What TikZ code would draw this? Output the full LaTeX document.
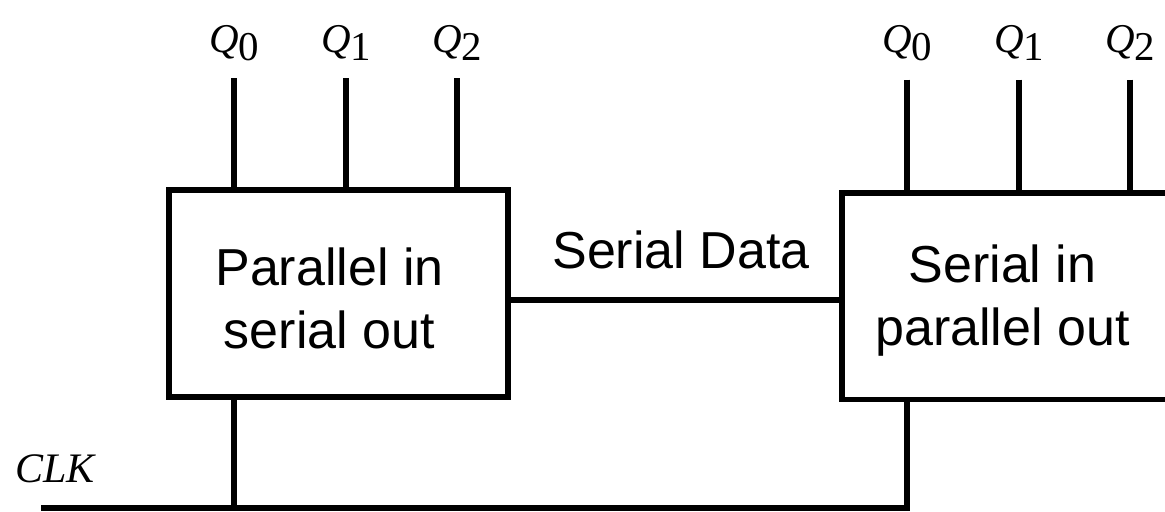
\documentclass[tikz,border=0pt]{standalone}
\usepackage{fontspec}
\setmainfont{Liberation Sans}
\newfontfamily\timesfont{Liberation Serif}
\usetikzlibrary{positioning, calc}

\tikzset{
    wire/.style={line width=3.4pt, line cap=butt, line join=miter},
    regbox/.style={draw, line width=3.4pt, outer sep=0pt, inner sep=0pt,
        minimum width=6.78cm, minimum height=4.14cm},
    regtext/.style={align=center, inner sep=0pt, font=\fontsize{29.6}{35.9}\selectfont},
    qlabel/.style={anchor=base, inner sep=0pt, font=\timesfont\fontsize{23.3}{28}\selectfont\itshape},
}
\newcommand{\qsub}[1]{Q\raisebox{-0.16cm}{\upshape #1}}

\begin{document}
\begin{tikzpicture}[x=0.02cm, y=-0.02cm]
    \useasboundingbox (0,0) rectangle (1165,511);

    % --- Registers ---
    \node[regbox] (piso) at (338.5,293.5) {};
    \node[regbox] (sipo) at (1011.5,296) {};
    \node[regtext] (pisotxt) at ($(piso.center)+(-9,5)$) {Parallel in\\serial out};
    \node[regtext] (sipotxt) at ($(sipo.center)+(-9,5)$) {Serial in\\parallel out};

    % --- Parallel outputs ---
    \foreach \i/\dx in {0/65, 1/177, 2/288} {
        \node[qlabel] (pq\i) at ($(piso.north west)+(\dx,-138)$) {\qsub{\i}};
        \coordinate (pt\i) at ($(piso.north west)+(\dx,-112)$);
        \draw[wire] (pt\i) -- (pt\i |- piso.north);
        \node[qlabel] (sq\i) at ($(sipo.north west)+(\dx,-140)$) {\qsub{\i}};
        \coordinate (st\i) at ($(sipo.north west)+(\dx,-113)$);
        \draw[wire] (st\i) -- (st\i |- sipo.north);
    }

    % --- Serial link ---
    \coordinate (sdout) at ($(piso.east)+(0,6.5)$);
    \draw[wire] (sdout) -- (sdout -| sipo.west);
    \node[regtext, anchor=base] (sdlabel) at (681,268) {Serial Data};

    % --- Clock ---
    \node[anchor=base west, inner sep=0pt, font=\timesfont\fontsize{23.9}{28}\selectfont\itshape] (clk) at (15,482) {CLK};
    \coordinate (clkin) at (41,508);
    \draw[wire] (pt0 |- piso.south) -- (pt0 |- clkin);
    \draw[wire] (clkin) -- (st0 |- clkin) -- (st0 |- sipo.south);
\end{tikzpicture}
\end{document}
